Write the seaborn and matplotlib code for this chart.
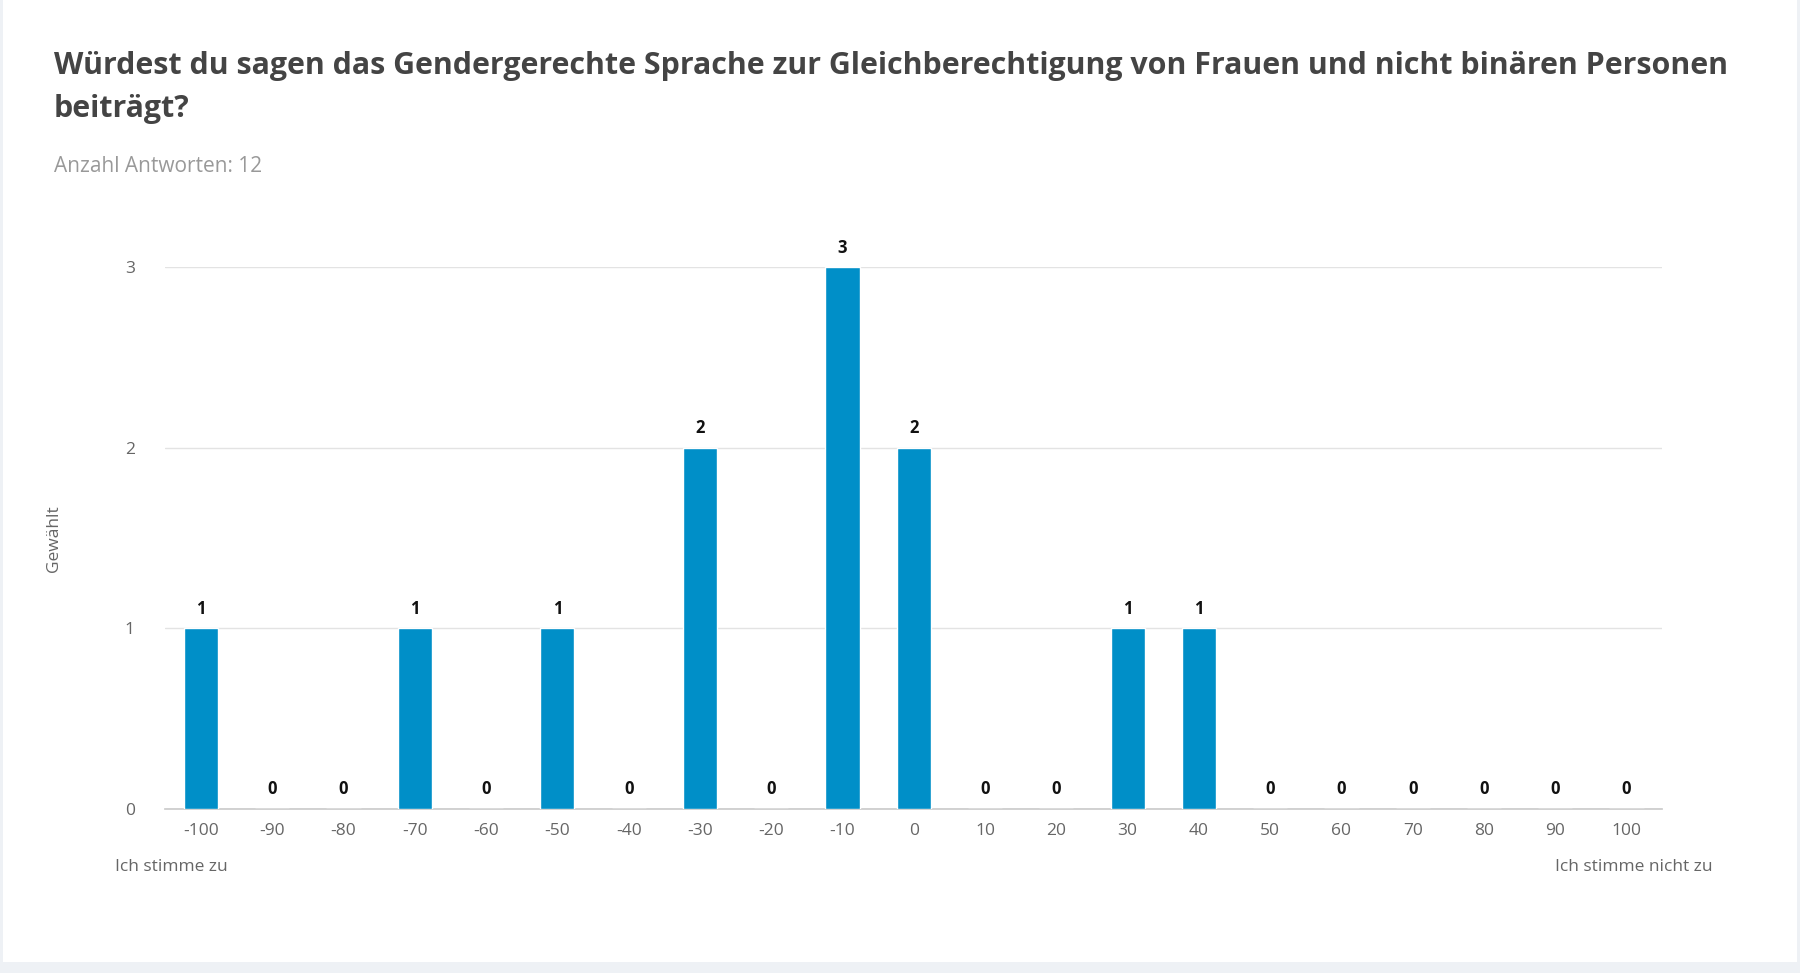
import matplotlib
matplotlib.use("Agg")
import matplotlib.pyplot as plt
import seaborn as sns
import pandas as pd
from matplotlib.patches import Rectangle

categories = [str(v) for v in range(-100, 101, 10)]
counts = [1, 0, 0, 1, 0, 1, 0, 2, 0, 3, 2, 0, 0, 1, 1, 0, 0, 0, 0, 0, 0]
title = "Würdest du sagen das Gendergerechte Sprache zur Gleichberechtigung von Frauen und nicht binären Personen\nbeiträgt?"
subtitle = "Anzahl Antworten: 12"

sns.set_theme(style="white")
plt.rcParams['font.family'] = ['Open Sans', 'DejaVu Sans']

df = pd.DataFrame({"cat": categories, "n": counts})
fig = plt.figure(figsize=(18, 9.73), dpi=100, facecolor="#eef1f5")
fig.patches.append(Rectangle((3/1568, 1-838/848), 1-6/1568, 838/848, transform=fig.transFigure,
                             facecolor="white", edgecolor="none", zorder=-10))
ax = fig.add_axes([144/1568, 1-705/848, (1448-144)/1568, (705-233)/848])
ax.set_zorder(5)
ax.set_facecolor("none")
sns.barplot(data=df, x="cat", y="n", order=categories, color="#008fc8", saturation=1,
            width=0.48, ax=ax, zorder=3)
ax.set_ylim(0, 3)
ax.set_xlim(-0.5, 20.5)
ax.set_yticks([0, 1, 2, 3])
ax.grid(axis="y", color="#e3e3e3", linewidth=1, zorder=0)
for s in ["top", "right", "left"]:
    ax.spines[s].set_visible(False)
ax.spines["bottom"].set_color("#cccccc")
ax.tick_params(axis="both", colors="#666666", labelsize=12.5, length=0, pad=10)
ax.tick_params(axis="y", pad=22)
ax.set_xlabel("")
ax.set_ylabel("Gewählt", color="#666666", fontsize=12.5, labelpad=45)
for i, v in enumerate(counts):
    ax.text(i, v + 0.06, str(v), ha="center", va="bottom", fontsize=12, fontweight="bold",
            color="#111111", clip_on=False)

fig.text(47/1568, 1-76/848, title, ha="left", va="center", fontsize=21.9, fontweight="bold",
         color="#444444", linespacing=1.55, zorder=6)
fig.text(47/1568, 1-145/848, subtitle, ha="left", va="center", fontsize=15, color="#999999", zorder=6)
fig.text(100/1568, 1-756/848, "Ich stimme zu", ha="left", va="center", fontsize=12.5, color="#666666", zorder=6)
fig.text(1492/1568, 1-756/848, "Ich stimme nicht zu", ha="right", va="center", fontsize=12.5, color="#666666", zorder=6)
fig.savefig("out.png", dpi=100, facecolor=fig.get_facecolor())
